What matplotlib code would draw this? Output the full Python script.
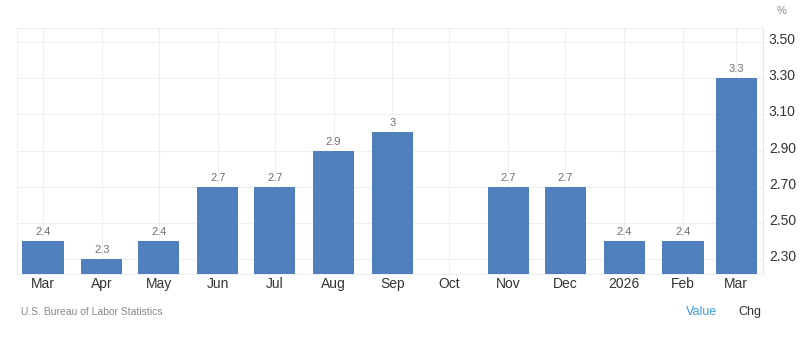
import matplotlib
matplotlib.use("Agg")
import matplotlib.pyplot as plt
import matplotlib.dates as mdates
import matplotlib.transforms as mtransforms
import numpy as np
import datetime as dt

months = ["2025-03-01", "2025-04-01", "2025-05-01", "2025-06-01", "2025-07-01",
          "2025-08-01", "2025-09-01", "2025-10-01", "2025-11-01", "2025-12-01",
          "2026-01-01", "2026-02-01", "2026-03-01"]
tick_labels = ["Mar", "Apr", "May", "Jun", "Jul", "Aug", "Sep", "Oct", "Nov",
               "Dec", "2026", "Feb", "Mar"]
values = [2.4, 2.3, 2.4, 2.7, 2.7, 2.9, 3.0, np.nan, 2.7, 2.7, 2.4, 2.4, 3.3]
label_text = ["2.4", "2.3", "2.4", "2.7", "2.7", "2.9", "3", "", "2.7", "2.7",
              "2.4", "2.4", "3.3"]
yticks = [2.30, 2.50, 2.70, 2.90, 3.10, 3.30, 3.50]

dates = [dt.datetime.strptime(m, "%Y-%m-%d") for m in months]
x = mdates.date2num(dates)

plt.rcParams['font.family'] = ['Liberation Sans', 'DejaVu Sans']
fig = plt.figure(figsize=(8, 3.37), dpi=100)
ax = fig.add_axes([0.021, 0.187, 0.933, 0.729])

bar_color = "#4f80bd"
ymin = 2.219
for xi, v, t in zip(x, values, label_text):
    if np.isnan(v):
        continue
    ax.bar(xi, v - ymin, width=21.7, bottom=ymin, color=bar_color, zorder=3)
    ax.text(xi, v + 0.022, t, ha="center", va="bottom", fontsize=8,
            color="#707070", zorder=4)

ax.set_ylim(ymin, 3.574)
ax.set_xlim(x[0] - 13.8, x[-1] + 14.2)

ax.set_xticks(x)
ax.set_xticklabels(tick_labels, fontsize=10, color="#333333")
ax.set_yticks(yticks)
ax.set_yticklabels([f"{v:.2f}" for v in yticks], fontsize=10, color="#333333")
ax.yaxis.tick_right()
ax.tick_params(axis="both", length=0)
ax.tick_params(axis="x", pad=2)
ax.tick_params(axis="y", pad=4)
offset = mtransforms.ScaledTranslation(0, 2.5 / 72, fig.dpi_scale_trans)
for lbl in ax.get_yticklabels():
    lbl.set_transform(lbl.get_transform() + offset)

ax.grid(True, color="#efefef", linewidth=0.8, zorder=0)
for side in ["top", "left", "bottom"]:
    ax.spines[side].set_color("#efefef")
    ax.spines[side].set_linewidth(0.8)
ax.spines["right"].set_color("#e6e6e6")
ax.spines["right"].set_linewidth(0.8)

fig.text(0.977, 0.967, "%", fontsize=8, color="#888888", ha="center", va="center")
fig.text(0.026, 0.073, "U.S. Bureau of Labor Statistics", fontsize=7.5,
         color="#888888", ha="left", va="center")
fig.text(0.877, 0.073, "Value", fontsize=9, color="#3c9be0", ha="center", va="center")
fig.text(0.937, 0.073, "Chg", fontsize=9, color="#333333", ha="center", va="center")

fig.savefig("out.png", dpi=100)
